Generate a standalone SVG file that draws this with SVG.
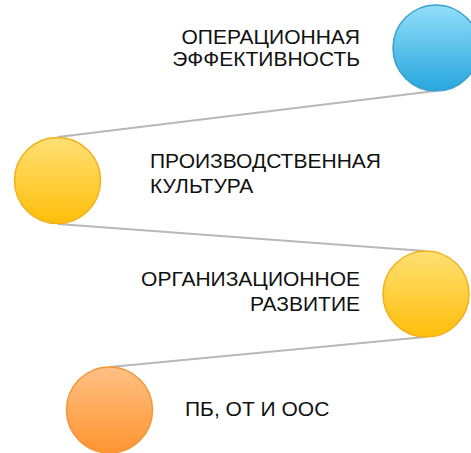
<svg xmlns="http://www.w3.org/2000/svg" width="471" height="453" viewBox="0 0 471 453">
<defs>
<linearGradient id="gBlue" x1="0" y1="0" x2="0" y2="1"><stop offset="0" stop-color="#92def9"/><stop offset="1" stop-color="#28a6de"/></linearGradient>
<linearGradient id="gYellow" x1="0" y1="0" x2="0" y2="1"><stop offset="0" stop-color="#ffe074"/><stop offset="1" stop-color="#ffbe0a"/></linearGradient>
<linearGradient id="gOrange" x1="0" y1="0" x2="0" y2="1"><stop offset="0" stop-color="#ffc085"/><stop offset="1" stop-color="#ff9430"/></linearGradient>
</defs>
<style>
.conn{stroke:#b8b8b8;stroke-width:2;fill:none}
.lbl{font-family:"Liberation Sans",Arial,sans-serif;font-size:21px;fill:#111111}
.blue{fill:url(#gBlue);stroke:#3a9fce;stroke-width:1.5}
.yellow{fill:url(#gYellow);stroke:#f2b11c;stroke-width:1.5}
.orange{fill:url(#gOrange);stroke:#f39535;stroke-width:1.5}
</style>
<rect width="471" height="453" fill="#ffffff"/>
<g id="connectors">
<line class="conn" x1="435" y1="91" x2="58" y2="137"/>
<line class="conn" x1="58" y1="224" x2="425" y2="251"/>
<line class="conn" x1="425" y1="337" x2="110" y2="367"/>
</g>
<g id="node-operational">
<circle class="blue" cx="436" cy="48" r="43"/>
<text class="lbl" text-anchor="end" x="360" y="44">ОПЕРАЦИОННАЯ</text>
<text class="lbl" text-anchor="end" x="360" y="66">ЭФФЕКТИВНОСТЬ</text>
</g>
<g id="node-culture">
<circle class="yellow" cx="57.5" cy="180.5" r="43"/>
<text class="lbl" x="150" y="168">ПРОИЗВОДСТВЕННАЯ</text>
<text class="lbl" x="150" y="193">КУЛЬТУРА</text>
</g>
<g id="node-org">
<circle class="yellow" cx="426" cy="294" r="43"/>
<text class="lbl" text-anchor="end" x="360" y="286">ОРГАНИЗАЦИОННОЕ</text>
<text class="lbl" text-anchor="end" x="360" y="311">РАЗВИТИЕ</text>
</g>
<g id="node-safety">
<circle class="orange" cx="109.5" cy="410" r="43"/>
<text class="lbl" x="185" y="416">ПБ, ОТ И ООС</text>
</g>
</svg>
